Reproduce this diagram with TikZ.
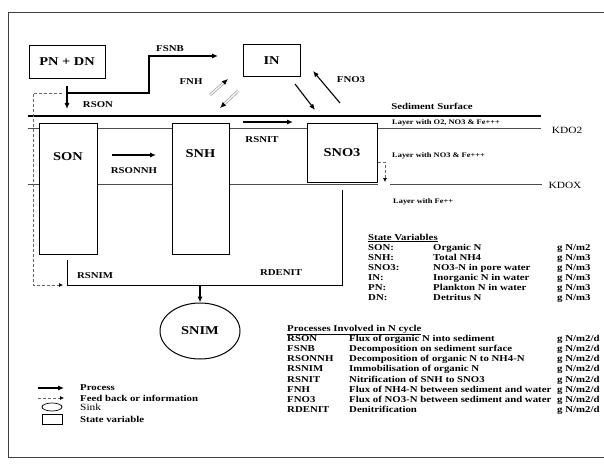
\documentclass[tikz,border=0pt]{standalone}
\usepackage{fontspec}
\setmainfont{Liberation Serif}
\newfontfamily\lbfont[FakeStretch=1.2]{Liberation Serif}
\usetikzlibrary{arrows.meta,calc,positioning,shapes.geometric}

\begin{document}
\begin{tikzpicture}[x=1pt,y=-1pt,
every node/.style={inner sep=0pt},
box/.style={draw,line width=1pt,fill=white},
big/.style={font=\lbfont\bfseries\fontsize{12}{14}\selectfont},
flow/.style={font=\lbfont\bfseries\fontsize{9}{10}\selectfont},
small/.style={font=\lbfont\bfseries\fontsize{7}{9}\selectfont,anchor=west},
thin/.style={font=\lbfont\fontsize{9.5}{11}\selectfont},
tab/.style={font=\lbfont\bfseries\fontsize{9}{10}\selectfont,anchor=base west},
proc/.style={line width=1.1pt,-{Latex[length=6pt,width=5pt]}},
fback/.style={densely dashed,line width=.6pt,draw=black!60,-{Latex[length=4pt,width=4pt,color=black]}},
flux/.style={draw=black!35,double=white,double distance=1.2pt,line width=.8pt,-{Latex[length=6pt,width=5pt,color=black]}},
layer/.style={line width=.5pt,draw=black!70}]
\useasboundingbox (0,0) rectangle (604,468);
\draw[line width=.8pt,black!75] (604,12) -| (8,457) -- (604,457);

\coordinate (S1) at (28,116);
\coordinate (S2) at (541,116);
\coordinate (K1) at (28,128);
\coordinate (K2) at (541,128);
\coordinate (X1) at (28,184);
\coordinate (X2) at (378,184);
\coordinate (X3) at (390,184);
\coordinate (X4) at (542,184);
\draw[line width=1.3pt] (S1)--(S2);
\draw[layer] (K1)--(K2);
\draw[layer] (X1)--(X2) (X3)--(X4);

\node[box,big,minimum width=76,minimum height=33] (PNDN) at (67,62) {PN + DN};
\node[box,big,minimum width=57,minimum height=32] (IN) at (271.5,61) {IN};
\node[box,minimum width=58,minimum height=131] (SON) at (68,188.5) {};
\node[big] (SONl) at (68,157) {SON};
\node[box,minimum width=57,minimum height=131] (SNH) at (200.5,188.5) {};
\node[big] (SNHl) at (200.5,154) {SNH};
\node[box,big,minimum width=70,minimum height=59] (SNO3) at (342,152.5) {SNO3};
\node[draw,ellipse,line width=1pt,big,minimum width=80,minimum height=56] (SNIM) at (200,331) {SNIM};

\coordinate (RS1) at (67,86);
\coordinate (RS2) at (67,109);
\coordinate (F1) at (67,93);
\coordinate (F2) at (149,56);
\coordinate (F3) at (218,56);
\draw[proc] (RS1)--(RS2);
\draw[proc] (F1) -| (F2)--(F3);
\coordinate (B1) at (62,93);
\coordinate (B2) at (33,93);
\coordinate (B3) at (63,285);
\draw[fback] (B1)--(B2) |- (B3);

\coordinate (R1) at (112,155);
\coordinate (R2) at (156,155);
\draw[proc] (R1)--(R2);
\coordinate (T1) at (243,122);
\coordinate (T2) at (293,122);
\draw[proc] (T1)--(T2);

\coordinate (N1) at (295,84);
\coordinate (N2) at (315,110);
\coordinate (N3) at (340,103);
\coordinate (N4) at (313,71);
\draw[proc] (N1)--(N2);
\draw[proc] (N3)--(N4);
\coordinate (H1) at (210,95);
\coordinate (H2) at (228,79);
\coordinate (H3) at (238,91);
\coordinate (H4) at (220,108);
\draw[flux] (H1)--(H2);
\draw[flux] (H3)--(H4);

\coordinate (M1) at (67,260);
\coordinate (M3) at (67,285);
\coordinate (M4) at (342,285);
\coordinate (M2) at (342,190);
\draw[line width=1pt] (M1)--(M3)--(M4)--(M2);
\coordinate (D1) at (200,285);
\draw[proc] (D1)--(SNIM.north);
\coordinate (Q1) at (378,162);
\coordinate (Q2) at (385,182);
\draw[fback] (Q1) -| (Q2);

\node[flow] (RSONl) at (98,105) {RSON};
\node[flow] (FSNBl) at (170,49) {FSNB};
\node[flow] (FNHl) at (191,82) {FNH};
\node[flow] (FNO3l) at (351,80) {FNO3};
\node[flow] (RSONNHl) at (134,171) {RSONNH};
\node[flow] (RSNITl) at (262,140) {RSNIT};
\node[flow] (RSNIMl) at (95,276) {RSNIM};
\node[flow] (RDENITl) at (281,273) {RDENIT};

\node[flow] (SSl) at (432,106) {Sediment Surface};
\node[small] (L1) at (392,123) {Layer with O2, NO3 \& Fe+++};
\node[small] (L2) at (392,156) {Layer with NO3 \& Fe+++};
\node[small] (L3) at (393,202) {Layer with Fe++};
\node[thin] (KDO2) at (567,130) {KDO2};
\node[thin] (KDOX) at (565,185) {KDOX};

\node[tab] (SVt) at (368,240) {\underline{State Variables}};
\foreach \n/\d [count=\i] in {SON:/Organic N,SNH:/Total NH4,SNO3:/NO3-N in pore water,IN:/Inorganic N in water,PN:/Plankton N in water,DN:/Detritus N}
{
\node[tab] (SVa\i) at (368,240+10*\i) {\n};
\node[tab] (SVb\i) at (433,240+10*\i) {\d};
}
\foreach \u [count=\i] in {g N/m2,g N/m3,g N/m3,g N/m3,g N/m3,g N/m3}
\node[tab] (SVc\i) at (557,240+10*\i) {\u};

\node[tab] (PIt) at (287,331) {\underline{Processes Involved in N cycle}};
\foreach \n/\d [count=\i] in {RSON/Flux of organic N into sediment,FSNB/Decomposition on sediment surface,RSONNH/Decomposition of organic N to NH4-N,RSNIM/Immobilisation of organic N,RSNIT/Nitrification of SNH to SNO3,FNH/Flux of NH4-N between sediment and water,FNO3/Flux of NO3-N between sediment and water,RDENIT/Denitrification}
{
\node[tab] (PIa\i) at (287,331+10.2*\i) {\n};
\node[tab] (PIb\i) at (349,331+10.2*\i) {\d};
\node[tab] (PIc\i) at (557,331+10.2*\i) {g N/m2/d};
}

\coordinate (G1) at (38,388);
\coordinate (G2) at (64,388);
\coordinate (G3) at (38,398);
\coordinate (G4) at (64,398);
\draw[proc] (G1)--(G2);
\draw[fback] (G3)--(G4);
\node[draw,ellipse,line width=.7pt,minimum width=20,minimum height=8] (Gs) at (52,407) {};
\node[draw,line width=.7pt,minimum width=20,minimum height=10] (Gb) at (52,419) {};
\node[flow,anchor=west] (Gt1) at (80,388) {Process};
\node[flow,anchor=west] (Gt2) at (80,398) {Feed back or information};
\node[thin,anchor=west] (Gt3) at (80,407) {Sink};
\node[flow,anchor=west] (Gt4) at (80,419) {State variable};
\end{tikzpicture}
\end{document}
